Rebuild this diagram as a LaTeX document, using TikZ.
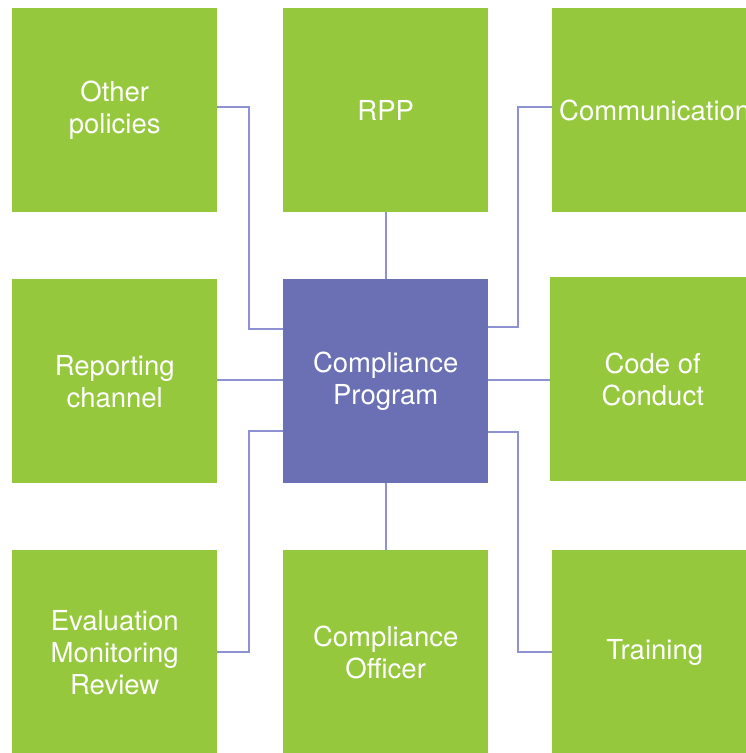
\documentclass[tikz,border=0pt]{standalone}
\usepackage{fontspec}
\setmainfont{TeX Gyre Heros}
\definecolor{boxgreen}{HTML}{95C83D}
\definecolor{boxpurple}{HTML}{6B70B5}
\definecolor{linecol}{HTML}{8E92D2}
\begin{document}
\begin{tikzpicture}[x=1pt,y=-1pt,
  box/.style={fill=boxgreen,draw=none,minimum width=205pt,minimum height=204pt,inner sep=0pt,
    text=white,font=\fontsize{27.5}{32}\selectfont,align=center,anchor=north west},
  hub/.style={box,fill=boxpurple},
  conn/.style={draw=linecol,line width=1.6pt}]
\useasboundingbox (0,0) rectangle (745,753);
\node[box] (op) at (12,8) {Other\\policies};
\node[box] (rpp) at (283,8) {RPP};
\node[box] (com) at (552,8) {Communication};
\node[box] (rep) at (12,279) {Reporting\\channel};
\node[hub] (cp) at (283,279) {Compliance\\Program};
\node[box] (coc) at (550,277) {Code of\\Conduct};
\node[box] (emr) at (12,550) {Evaluation\\Monitoring\\Review};
\node[box] (co) at (283,550) {Compliance\\Officer};
\node[box] (tr) at (552,550) {Training};
\coordinate (a1) at (249,107);
\coordinate (a2) at (249,329);
\coordinate (b1) at (518,107);
\coordinate (b2) at (518,327);
\coordinate (c1) at (249,652);
\coordinate (c2) at (249,431);
\coordinate (d1) at (518,652);
\coordinate (d2) at (518,432);
\draw[conn] (op.east |- a1) -- (a1) -- (a2) -- (cp.west |- a2);
\draw[conn] (rpp.south) -- (cp.north);
\draw[conn] (com.west |- b1) -- (b1) -- (b2) -- (cp.east |- b2);
\draw[conn] (rep.east |- 0,380) -- (cp.west |- 0,380);
\draw[conn] (cp.east |- 0,380) -- (coc.west |- 0,380);
\draw[conn] (emr.east |- c1) -- (c1) -- (c2) -- (cp.west |- c2);
\draw[conn] (cp.south) -- (co.north);
\draw[conn] (tr.west |- d1) -- (d1) -- (d2) -- (cp.east |- d2);
\end{tikzpicture}
\end{document}
